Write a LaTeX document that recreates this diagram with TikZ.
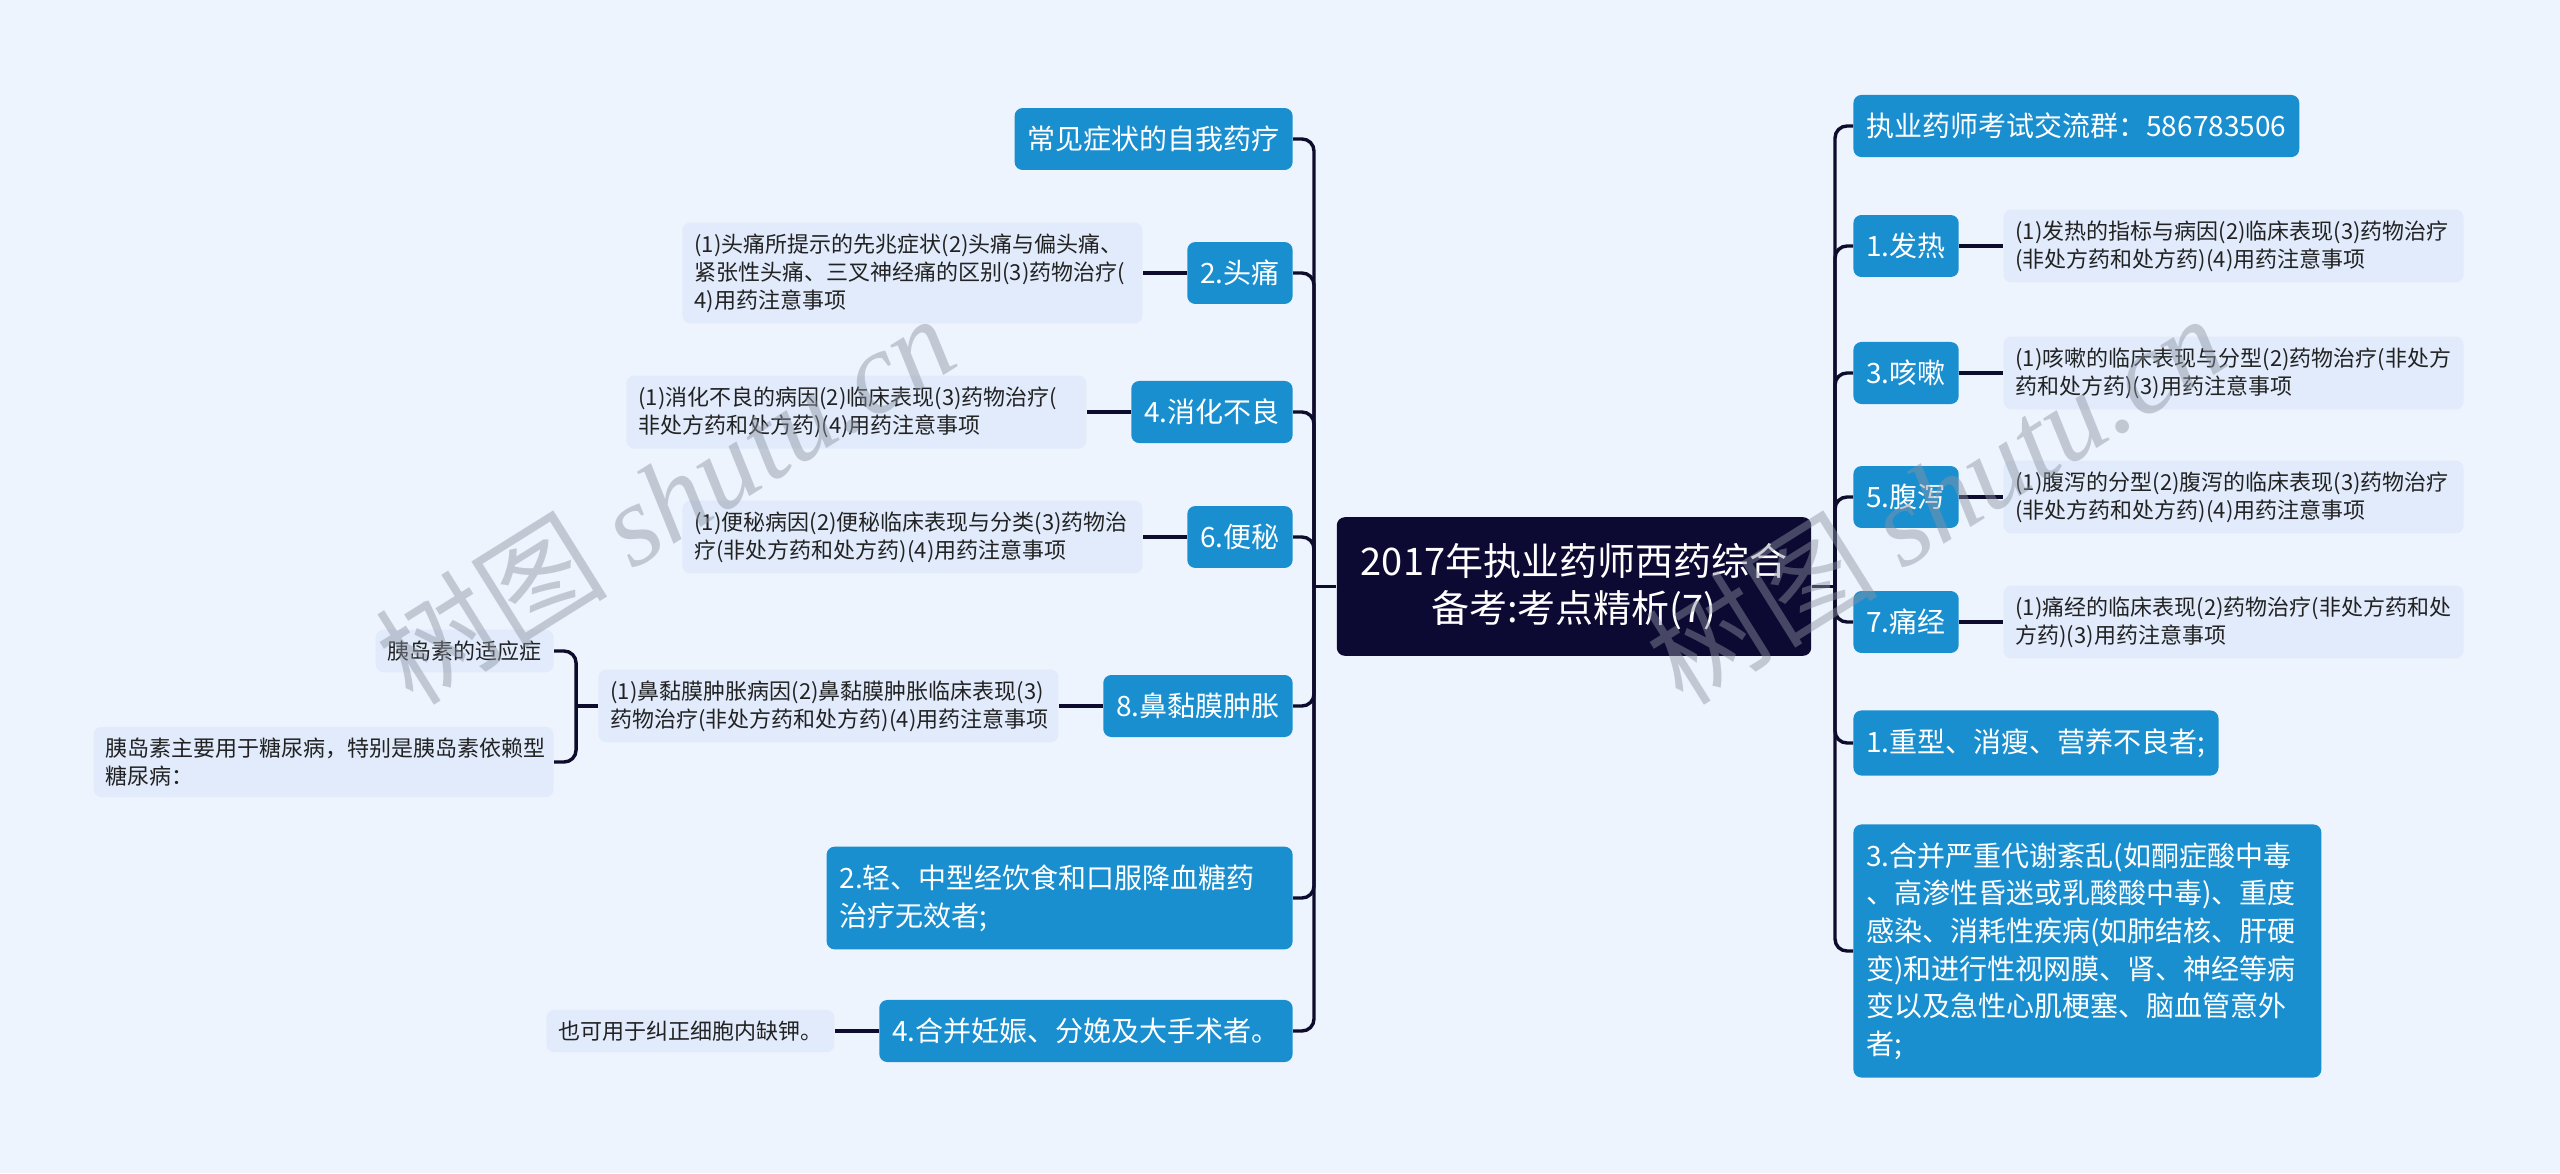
\documentclass[tikz,border=0pt]{standalone}
\usepackage{fontspec}
\setmainfont{Noto Sans CJK SC}
\newfontfamily\wmserif{Liberation Serif}
\usepackage{tikz}
\usetikzlibrary{positioning, calc}
\usepackage{xcolor}

\definecolor{bgcol}{RGB}{238,244,254}
\definecolor{rootcol}{RGB}{12,9,50}
\definecolor{bluecol}{RGB}{26,143,208}
\definecolor{leafcol}{RGB}{225,235,251}
\definecolor{linecol}{RGB}{14,12,44}
\definecolor{txtcol}{RGB}{34,34,34}
\definecolor{wmcol}{RGB}{140,148,162}

\begin{document}
\begin{tikzpicture}[
    x=0.5pt, y=-0.5pt,
    node distance=22pt,
    root/.style={rectangle, fill=rootcol, rounded corners=4pt, text=white, align=center, font=\fontsize{19}{23.5}\selectfont, inner xsep=12pt, inner ysep=13pt},
    topic/.style={rectangle, fill=bluecol, rounded corners=4pt, text=white, align=left, font=\fontsize{14}{18.8}\selectfont, inner xsep=6.5pt, inner ysep=9pt},
    leaf/.style={rectangle, fill=leafcol, rounded corners=4pt, text=txtcol, align=left, font=\fontsize{11}{14}\selectfont, inner xsep=6pt, inner ysep=5.5pt},
    note/.style={leaf, text width=218pt},
    link/.style={draw=linecol, line width=1.7pt, rounded corners=6pt},
    wmark/.style={text=wmcol, opacity=0.45, rotate=32, font=\fontsize{58}{60}\selectfont}
]
    \useasboundingbox (0,0) rectangle (2560,1173);
    \fill[bgcol] (0,0) rectangle (2560,1173);

    % 中心主题
    \node[root] (root) at (1574,586.5) {2017年执业药师西药综合\\备考:考点精析(7)};

    % 左侧分支
    \node[topic, anchor=east] (a1) at (1293,139) {常见症状的自我药疗};
    \node[topic, anchor=east] (a2) at (1293,273) {2.头痛};
    \node[topic, anchor=east] (a4) at (1293,412) {4.消化不良};
    \node[topic, anchor=east] (a6) at (1293,537) {6.便秘};
    \node[topic, anchor=east] (a8) at (1293,706) {8.鼻黏膜肿胀};
    \node[topic, anchor=east, text width=220pt] (b2) at (1293,898) {2.轻、中型经饮食和口服降血糖药\\治疗无效者;};
    \node[topic, anchor=east] (b4) at (1293,1031) {4.合并妊娠、分娩及大手术者。};

    \node[note, left=of a2] (d2) {(1)头痛所提示的先兆症状(2)头痛与偏头痛、\\紧张性头痛、三叉神经痛的区别(3)药物治疗(\\4)用药注意事项};
    \node[note, left=of a4] (d4) {(1)消化不良的病因(2)临床表现(3)药物治疗(\\非处方药和处方药)(4)用药注意事项};
    \node[note, left=of a6] (d6) {(1)便秘病因(2)便秘临床表现与分类(3)药物治\\疗(非处方药和处方药)(4)用药注意事项};
    \node[note, left=of a8] (d8) {(1)鼻黏膜肿胀病因(2)鼻黏膜肿胀临床表现(3)\\药物治疗(非处方药和处方药)(4)用药注意事项};
    \node[leaf, left=of b4] (k4) {也可用于纠正细胞内缺钾。};

    % 胰岛素
    \node[leaf, left=of d8, yshift=27.5pt] (t1) {胰岛素的适应症};
    \node[note, left=of d8, yshift=-28pt] (t2) {胰岛素主要用于糖尿病，特别是胰岛素依赖型\\糖尿病：};

    % 右侧分支
    \node[topic, anchor=west] (q) at (1853,126) {执业药师考试交流群：586783506};
    \node[topic, anchor=west] (r1) at (1853,246) {1.发热};
    \node[topic, anchor=west] (r3) at (1853,373) {3.咳嗽};
    \node[topic, anchor=west] (r5) at (1853,497) {5.腹泻};
    \node[topic, anchor=west] (r7) at (1853,622) {7.痛经};
    \node[topic, anchor=west] (s1) at (1853,743) {1.重型、消瘦、营养不良者;};
    \node[topic, anchor=west, text width=221pt] (s3) at (1853,951) {3.合并严重代谢紊乱(如酮症酸中毒\\、高渗性昏迷或乳酸酸中毒)、重度\\感染、消耗性疾病(如肺结核、肝硬\\变)和进行性视网膜、肾、神经等病\\变以及急性心肌梗塞、脑血管意外\\者;};

    \node[note, right=of r1] (e1) {(1)发热的指标与病因(2)临床表现(3)药物治疗\\(非处方药和处方药)(4)用药注意事项};
    \node[note, right=of r3] (e3) {(1)咳嗽的临床表现与分型(2)药物治疗(非处方\\药和处方药)(3)用药注意事项};
    \node[note, right=of r5] (e5) {(1)腹泻的分型(2)腹泻的临床表现(3)药物治疗\\(非处方药和处方药)(4)用药注意事项};
    \node[note, right=of r7] (e7) {(1)痛经的临床表现(2)药物治疗(非处方药和处\\方药)(3)用药注意事项};

    % 连线
    \coordinate (ltrunk) at (1314,586.5);
    \coordinate (rtrunk) at (1835,586.5);
    \draw[link] (root.west) -- (ltrunk);
    \draw[link] (root.east) -- (rtrunk);
    \foreach \n in {a1,a2,a4,a6,a8,b2,b4}
        \draw[link] (ltrunk) |- (\n.east);
    \foreach \n in {q,r1,r3,r5,r7,s1,s3}
        \draw[link] (rtrunk) |- (\n.west);
    \foreach \a/\d in {a2/d2,a4/d4,a6/d6,a8/d8,b4/k4}
        \draw[link] (\a.west) -- (\d.east);
    \foreach \a/\d in {r1/e1,r3/e3,r5/e5,r7/e7}
        \draw[link] (\a.east) -- (\d.west);
    \coordinate (bk) at ($(d8.west)!0.5!(t1.east|-d8.west)$);
    \draw[link] (d8.west) -- (bk);
    \draw[link] (bk) |- (t1.east);
    \draw[link] (bk) |- (t2.east);

    % 水印
    \node[wmark] (wm1) at (665,498) {树图 {\wmserif\itshape shutu.cn}};
    \node[wmark] (wm2) at (1935,498) {树图 {\wmserif\itshape shutu.cn}};
\end{tikzpicture}
\end{document}
